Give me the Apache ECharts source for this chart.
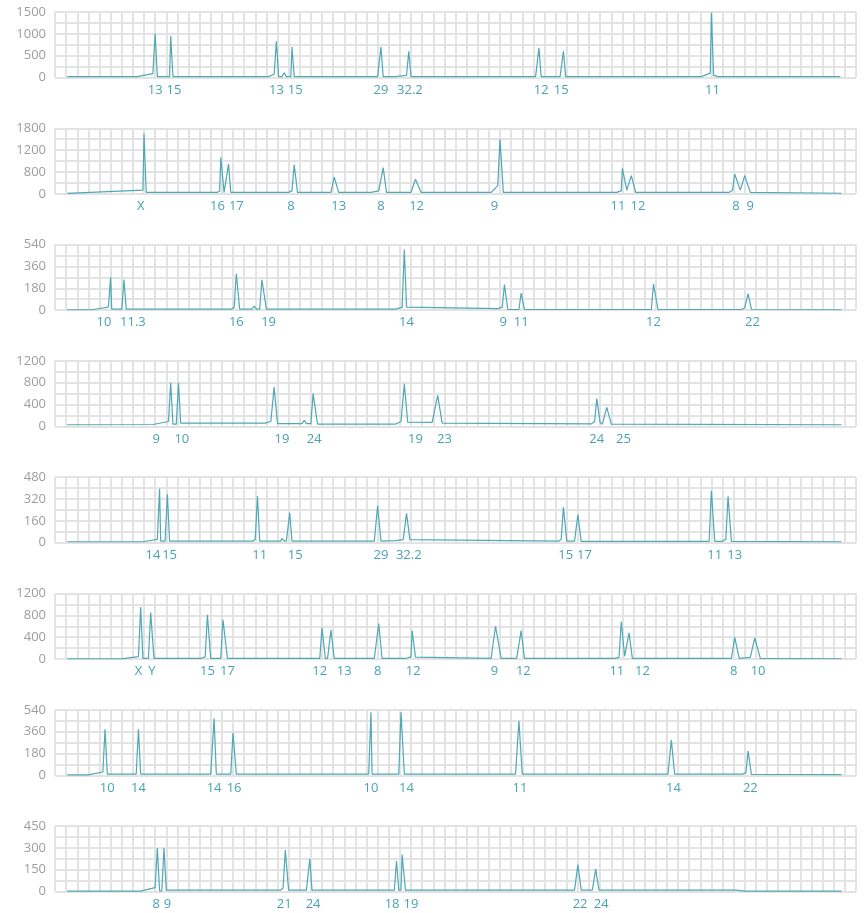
<!DOCTYPE html>
<html>
<head>
<meta charset="utf-8">
<script src="https://cdn.jsdelivr.net/npm/echarts@6/dist/echarts.min.js"></script>
<style>
  html, body { margin: 0; padding: 0; background: #fff; }
  #main { width: 865px; height: 913px; }
</style>
</head>
<body>
<div id="main"></div>
<script>
// x is position along the strip (0..720, one grid cell = 10), y is the reading
const trace1 = [[11,20],[74,20],[88,90],[90,1000],[92,20],[103,20],[104,950],[106,20],[192,20],[197,75],[199,830],[201,20],[204,20],[206,110],[208,20],[212,20],[213,700],[215,20],[290,20],[291,60],[293,700],[295,20],[306,20],[316,50],[318,600],[320,20],[432,20],[435,680],[437,20],[454,20],[455,40],[457,600],[459,20],[581,20],[589,100],[590,1480],[592,50],[596,20],[706,20]]
const trace2 = [[11,10],[79,100],[80,1650],[82,40],[146,40],[148,80],[149,1000],[152,40],[156,820],[158,40],[210,40],[213,80],[215,800],[218,40],[248,40],[251,460],[255,40],[284,40],[291,80],[295,720],[298,40],[320,40],[324,400],[329,40],[392,40],[398,225],[400,1500],[403,40],[505,40],[509,80],[510,700],[514,100],[518,500],[522,40],[606,40],[609,100],[611,540],[616,100],[620,500],[625,40],[707,15]]
const trace3 = [[11,3],[33,3],[48,25],[50,270],[51,8],[60,8],[62,250],[64,8],[158,8],[161,20],[163,300],[166,8],[177,8],[179,33],[181,8],[184,8],[186,250],[190,8],[306,8],[312,22],[314,500],[316,25],[398,12],[402,25],[404,210],[407,5],[417,5],[419,140],[422,5],[536,5],[538,215],[542,5],[617,5],[620,20],[623,135],[626,5],[707,3]]
const trace4 = [[11,30],[88,35],[102,90],[104,800],[106,40],[109,40],[111,800],[113,60],[189,60],[194,90],[197,720],[200,50],[222,50],[224,110],[226,50],[230,50],[232,600],[236,40],[306,40],[311,90],[314,780],[317,80],[339,75],[344,570],[348,60],[482,45],[485,90],[487,510],[490,70],[492,40],[496,350],[500,40],[707,30]]
const trace5 = [[11,7],[79,7],[92,25],[94,395],[95,12],[99,12],[101,355],[103,12],[178,12],[180,25],[182,340],[184,12],[203,12],[204,32],[206,12],[208,12],[211,220],[213,12],[287,12],[290,270],[293,12],[306,15],[313,22],[316,215],[319,22],[453,12],[455,25],[457,260],[460,12],[467,12],[470,205],[473,10],[588,10],[590,380],[593,10],[600,10],[603,25],[605,340],[608,10],[707,7]]
const trace6 = [[11,3],[60,3],[75,42],[77,950],[79,10],[84,10],[86,850],[89,10],[131,10],[135,40],[137,810],[140,10],[149,10],[151,720],[155,10],[238,10],[240,570],[243,10],[245,10],[248,530],[251,10],[287,10],[291,650],[294,10],[315,10],[320,40],[321,520],[324,36],[392,10],[396,600],[401,10],[415,10],[419,520],[422,10],[503,10],[507,30],[509,680],[512,50],[516,480],[519,10],[608,10],[611,395],[615,10],[625,30],[629,385],[634,10],[707,5]]
const trace7 = [[11,3],[30,3],[43,27],[45,380],[47,10],[73,10],[75,380],[77,10],[140,10],[141,25],[143,470],[145,10],[158,10],[160,350],[163,10],[282,10],[284,520],[285,10],[309,10],[311,520],[314,10],[414,10],[417,450],[420,10],[551,10],[554,290],[557,10],[618,10],[621,20],[623,200],[626,8],[707,5]]
const trace8 = [[11,3],[77,3],[90,27],[92,300],[94,5],[96,5],[98,300],[100,10],[203,10],[205,25],[207,285],[210,10],[226,10],[229,225],[231,10],[305,10],[307,210],[309,10],[311,10],[312,255],[315,10],[467,10],[470,185],[473,10],[483,10],[486,155],[489,10],[612,10],[621,3],[707,3]]

const peakLabels1 = ["13","15","13","15","29","32.2","12","15","11"]
const peakPos1 = [90,107,199,216,293,319,437,455,591]
const peakLabels2 = ["X","16","17","8","13","8","12","9","11","12","8","9"]
const peakPos2 = [77,146,163,212,255,293,325,395,506,524,612,625]
const peakLabels3 = ["10","11.3","16","19","14","9","11","12","22"]
const peakPos3 = [44,70,163,192,316,403,419,538,627]
const peakLabels4 = ["9","10","19","24","19","23","24","25"]
const peakPos4 = [91,114,204,233,324,350,487,511]
const peakLabels5 = ["14","15","11","15","29","32.2","15","17","11","13"]
const peakPos5 = [88,103,184,216,293,318,459,476,593,611]
const peakLabels6 = ["X","Y","15","17","12","13","8","12","9","12","11","12","8","10"]
const peakPos6 = [75,87,137,155,238,260,290,322,395,421,505,528,610,632]
const peakLabels7 = ["10","14","14","16","10","14","11","14","22"]
const peakPos7 = [47,75,143,161,284,316,418,556,625]
const peakLabels8 = ["8","9","21","24","18","19","22","24"]
const peakPos8 = [91,101,206,232,303,320,472,491]

const yMax = [1500, 1800, 540, 1200, 480, 1200, 540, 450]
const yTicks = [
  ["0","500","1000","1500"],
  ["0","800","1200","1800"],
  ["0","180","360","540"],
  ["0","400","800","1200"],
  ["0","160","320","480"],
  ["0","400","800","1200"],
  ["0","180","360","540"],
  ["0","150","300","450"]
]

const traces = [trace1, trace2, trace3, trace4, trace5, trace6, trace7, trace8]
const peakLabels = [peakLabels1, peakLabels2, peakLabels3, peakLabels4, peakLabels5, peakLabels6, peakLabels7, peakLabels8]
const peakPos = [peakPos1, peakPos2, peakPos3, peakPos4, peakPos5, peakPos6, peakPos7, peakPos8]

const FONT = "'Open Sans', 'Noto Sans', sans-serif"
const GRID_COLOR = "#e3e3e3"
const LINE_COLOR = "#4fa8b5"

const grid = [], xAxis = [], yAxis = [], series = []
traces.forEach((data, i) => {
  const step = yMax[i] / 6
  grid.push({left: 55, width: 801, top: 12 + i * 116.3, height: 65.5})
  xAxis.push({
    type: "value", gridIndex: i, min: 0, max: 720, interval: 10,
    axisLine: {show: false}, axisTick: {show: false},
    splitLine: {show: true, lineStyle: {color: GRID_COLOR, width: 2}},
    axisLabel: {
      customValues: peakPos[i],
      formatter: v => peakLabels[i][peakPos[i].indexOf(v)] || "",
      color: "#4aa2b0", fontSize: 13, margin: 6, fontFamily: FONT
    }
  })
  yAxis.push({
    type: "value", gridIndex: i, min: 0, max: yMax[i], interval: step,
    axisLine: {show: false}, axisTick: {show: false},
    splitLine: {show: true, lineStyle: {color: GRID_COLOR, width: 2}},
    axisLabel: {
      formatter: v => {
        const k = Math.round(v / step)
        return k % 2 === 0 ? yTicks[i][k / 2] : ""
      },
      color: "#9e9e9e", fontSize: 13, margin: 9, fontFamily: FONT
    }
  })
  series.push({
    type: "line", xAxisIndex: i, yAxisIndex: i, data: data,
    symbol: "none", silent: true,
    lineStyle: {color: LINE_COLOR, width: 1.2}
  })
})

const myChart = echarts.init(document.getElementById("main"))
myChart.setOption({animation: false, grid, xAxis, yAxis, series})
</script>
</body>
</html>
